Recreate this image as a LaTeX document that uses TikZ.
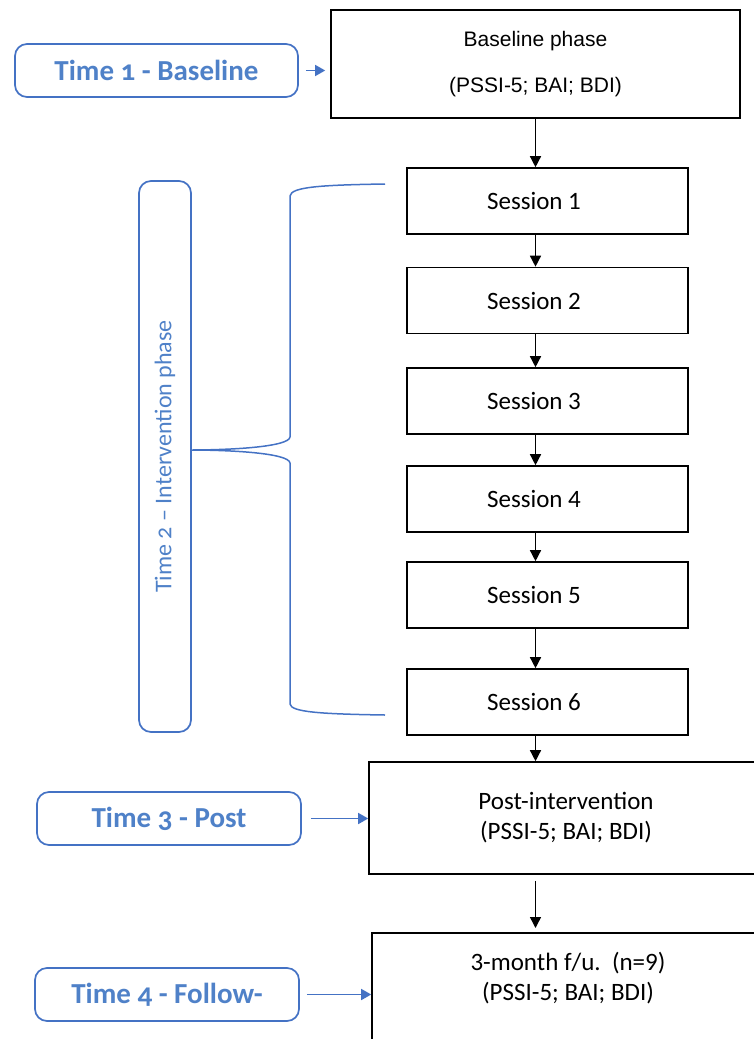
\documentclass[tikz,border=0pt]{standalone}
\usepackage{fontspec}
\setmainfont{Carlito}
\newfontfamily\arialfont{Liberation Sans}
\newfontfamily\timefont[Numbers=OldStyle]{Carlito}
\usepackage{xcolor}
\definecolor{flowblue}{HTML}{4472C4}
\definecolor{flowtext}{HTML}{4F81C8}
\usetikzlibrary{arrows.meta,positioning}

\begin{document}
\begin{tikzpicture}[x=1pt,y=-1pt,node distance=33pt,
  stepbox/.style={draw,line width=1.6pt,inner sep=0pt,minimum width=281pt,minimum height=66pt,
    align=center,font=\fontsize{25}{30}\selectfont},
  timebox/.style={draw=flowblue,line width=1.7pt,rounded corners=12pt,inner sep=0pt,
    minimum width=264pt,minimum height=53pt,text=flowtext,font=\timefont\bfseries\fontsize{29}{34}\selectfont},
  flowarrow/.style={-{Triangle[length=11pt,width=11pt]},line width=1.4pt},
  timearrow/.style={-{Triangle[length=10pt,width=11pt]},draw=flowblue,line width=1.5pt}]
\useasboundingbox (0,0) rectangle (754,1039);
\clip (0,0) rectangle (754,1039);

% flow of phases
\node[stepbox,minimum width=409pt,minimum height=108pt,font=\arialfont\fontsize{21}{46}\selectfont]
  (base) at (535.5,64) {Baseline phase\\(PSSI-5; BAI; BDI)};
\foreach \i/\y in {1/201,2/300.5,3/401,4/499,5/595,6/702}
  \node[stepbox,label={[xshift=-13.5pt,font=\fontsize{25}{30}\selectfont]center:Session \i}]
    (s\i) at (547.5,\y) {};
\node[stepbox,minimum width=394pt,minimum height=112pt] (post) at (566,818)
  {Post-intervention\\(PSSI-5; BAI; BDI)};
\node[stepbox,anchor=north,minimum width=392pt,minimum height=0pt,inner ysep=19pt,text depth=110pt]
  (follow) at (568,932) {3-month f/u.\ \ (n=9)\\(PSSI-5; BAI; BDI)};

% time labels
\node[timebox,minimum width=283pt] (t1) at (156.5,70.5) {Time 1 - Baseline};
\node[timebox,rotate=90,minimum width=551pt,minimum height=52pt,
  font=\timefont\fontsize{24}{28}\selectfont] (t2) at (165,456.5) {Time 2 – Intervention phase};
\node[timebox] (t3) at (169,818.5) {Time 3 - Post};
\node[timebox] (t4) at (167,994.5) {Time 4 - Follow-};

% arrows
\draw[flowarrow] (base.south) -- (base.south |- s1.north);
\foreach \i [count=\j from 2] in {1,...,5}
  \draw[flowarrow] (s\i.south -| base.south) -- (s\j.north -| base.south);
\draw[flowarrow] (s6.south -| base.south) -- (base.south |- post.north);
\draw[flowarrow,shorten <=6pt,shorten >=4pt] (base.south |- post.south) -- (base.south |- follow.north);
\draw[timearrow,shorten <=7pt,shorten >=5pt] (t1.east) -- (t1.east -| base.west);
\draw[timearrow,shorten <=9pt] (t3.east) -- (t3.east -| post.west);
\draw[timearrow,shorten <=7pt] (t4.east) -- (t4.east -| follow.west);

% brace round the sessions
\coordinate (bracetip) at (190,450);
\draw[flowblue,line width=1.5pt] (385,184) .. controls (320,185) and (291,187) .. (290,196)
  -- (290,437) .. controls (289,447) and (230,450) .. (bracetip)
  .. controls (230,450) and (289,453) .. (290,463) -- (290,704)
  .. controls (291,712) and (320,714) .. (385,715);
\end{tikzpicture}
\end{document}
